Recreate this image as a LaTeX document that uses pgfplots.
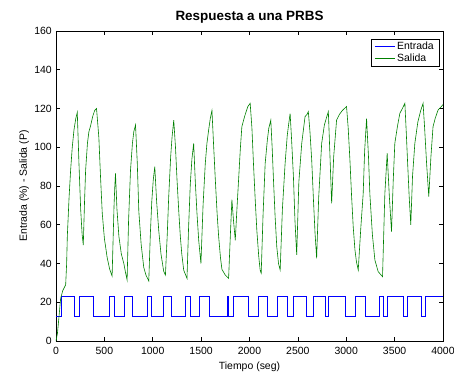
\documentclass[border=0pt]{standalone}
\usepackage{pgfplots}
\pgfplotsset{compat=1.18}
\usepackage{fontspec}
\setmainfont{Liberation Sans}
\definecolor{mblue}{RGB}{0,0,255}
\definecolor{mgreen}{RGB}{0,128,0}
\begin{document}
\begin{tikzpicture}
\useasboundingbox (-56bp,-33bp) rectangle (398bp,341bp);
\begin{axis}[
  at={(0,0)}, anchor=south west,
  scale only axis, width=387bp, height=310bp,
  xmin=0, xmax=4000, ymin=0, ymax=160,
  xtick={0,500,...,4000}, ytick={0,20,...,160},
  tick align=inside, tick pos=both, major tick length=4bp,
  axis line style={black, line width=0.6bp},
  every tick/.style={black, line width=0.6bp},
  /pgf/number format/assume math mode=true,
  /pgf/number format/1000 sep={},
  scaled x ticks=false,
  ticklabel style={font=\fontsize{10.5}{12}\selectfont},
  xticklabel style={anchor=base, yshift=-13bp},
  yticklabel style={anchor=east, inner sep=0pt, xshift=-4bp},
  title={\bfseries Respuesta a una PRBS},
  title style={at={(axis description cs:0.5,1)}, anchor=base, yshift=5bp, font=\fontsize{13.5}{15}\selectfont},
  xlabel={Tiempo (seg)},
  xlabel style={at={(axis description cs:0.5,0)}, anchor=base, yshift=-28bp, font=\fontsize{10.5}{12}\selectfont},
  ylabel={Entrada (\%) - Salida (P)},
  ylabel style={at={(axis description cs:0,0.5)}, anchor=base, rotate=0, yshift=29bp, font=\fontsize{10.5}{12}\selectfont},
  legend style={at={(axis description cs:1,1)}, anchor=north east, xshift=-4bp, yshift=-8bp,
    font=\fontsize{10.5}{11}\selectfont, inner xsep=3bp, inner ysep=1bp,
    row sep=-1.5bp},
  legend cell align=left,
  legend image code/.code={\draw[#1] (0bp,0bp) -- (20bp,0bp);},
]
\addplot[const plot, draw=mblue, line width=0.6bp] coordinates {
(0,13)(55,23)(185,13)(244,23)(385,13)(553,23)(598,13)(711,23)(787,13)(948,23)
(986,13)(1107,23)(1189,13)(1337,23)(1388,13)(1485,23)(1588,13)(1766,23)(1784,13)(1828,23)
(1990,13)(2086,23)(2189,13)(2292,23)(2395,13)(2454,23)(2591,13)(2660,23)(2780,13)(2815,23)
(2987,13)(3090,23)(3193,13)(3340,23)(3382,13)(3426,23)(3588,13)(3632,23)(3777,13)(3818,23)
(4000,23)};
\addlegendentry{Entrada}
\addplot[draw=mgreen, line width=0.6bp] coordinates {
(0,0)(15,4)(30,12)(48,22)(70,26)(100,29)(110,40)(117,54)(135,74)(151,88)(168,100)(186,109)(205,115)(220,118)
(237,92)(255,68)(270,55)(282,49.5)
(295,72)(306,88)(325,102)(340,108)(357,111)(380,116)(400,119)(419,120)
(443,105)(460,85)(478,66)(500,53)(529,43)(555,37)(580,33.5)
(590,52)(600,70)(608,80)(615,86.5)
(630,68)(650,54)(675,45)(701,40)(720,35)(735,31.5)
(750,62)(770,88)(790,102)(804,108)(822,111.5)
(840,92)(856,67)(880,50)(907,38)(930,34)(959,31)
(975,55)(990,72)(1005,83)(1021,90)
(1040,72)(1062,57)(1085,45)(1113,36)(1131,34)
(1150,55)(1165,74.5)(1185,95)(1200,105.5)(1217,114)
(1235,100)(1251,83)(1270,66)(1285,54)(1300,45)(1320,36.6)(1354,32.3)
(1370,58)(1388,81)(1405,94)(1423,102)
(1440,82)(1457,66)(1475,52)(1498,40)
(1520,70)(1543,91.6)(1560,102)(1578,109)(1595,115)(1612,119)
(1630,100)(1647,83)(1665,66)(1681,54)(1700,43)(1715,37)(1750,34)(1784,32.3)
(1800,52)(1818,73)(1835,62)(1853,52)
(1870,68)(1887,83)(1905,99)(1921,110.6)(1950,116)(1983,121)(2007,122.7)
(2025,110)(2041,91.6)(2060,72)(2076,57)(2095,44)(2110,36.6)(2121,35)
(2140,65)(2162,91.6)(2185,104)(2200,110)(2220,114)
(2235,99)(2248,83)(2265,64)(2282,48.6)(2300,40)(2317,36.6)
(2340,68)(2368,91.6)(2390,106)(2405,112)(2420,117.4)
(2435,104)(2454,84.8)(2470,62)(2488,44.4)
(2510,82)(2540,102)(2574,115.8)(2595,117)(2608,118.4)
(2625,108)(2643,93.4)(2660,74)(2677,56)(2694,42.7)
(2715,74)(2746,102)(2774,111.5)(2800,116)(2815,118.4)
(2830,98)(2849,71)
(2870,95)(2900,114)(2930,117)(2960,119)(3003,121)
(3020,110)(3038,93.4)(3055,75)(3072,59)(3090,47)(3105,41)(3124,36.6)
(3150,58)(3175,76)(3190,98)(3210,114.8)
(3230,95)(3244,76)(3270,55)(3296,41.8)(3330,35.8)(3375,33.2)
(3399,76)(3423,96.9)
(3445,75)(3468,56.4)
(3485,82)(3502,102)(3530,111)(3554,117.5)(3580,120)(3606,122.7)
(3620,108)(3633,93.4)(3650,75)(3667,59.9)
(3685,85)(3709,102)(3740,113)(3770,119)(3794,122.7)
(3810,110)(3830,92)(3853,74.5)
(3875,95)(3897,110.6)(3920,115)(3949,119.2)(3983,121)(4000,122)};
\addlegendentry{Salida}
\end{axis}
\end{tikzpicture}
\end{document}
